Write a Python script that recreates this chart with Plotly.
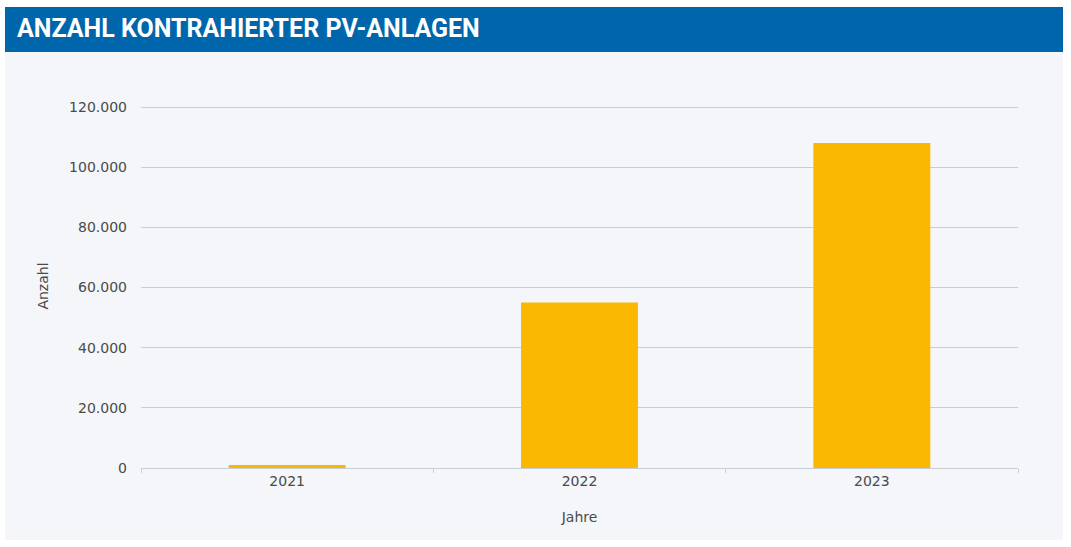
import plotly.graph_objects as go

years = ["2021", "2022", "2023"]
counts = [1000, 55000, 108000]
y_ticks = [0, 20000, 40000, 60000, 80000, 100000, 120000]

W, H = 1071, 547
def px(x):
    return x / W
def py(y):
    return 1 - y / H

# y scale: 0 at y=468 px, 120000 at y=107 px
y0_px, y120_px = 468, 107
y_max = 121000
top_px = y0_px - (y0_px - y120_px) * y_max / 120000

fig = go.Figure()
fig.add_trace(go.Bar(x=years, y=counts, marker=dict(color="#FBB800", line=dict(width=0)),
                     hoverinfo="x+y"))

font_fam = "DejaVu Sans, sans-serif"
fig.update_layout(
    width=W, height=H,
    margin=dict(l=0, r=0, t=0, b=0),
    paper_bgcolor="white",
    plot_bgcolor="#F4F6FA",
    separators=",.",
    bargap=0.6,
    showlegend=False,
    xaxis=dict(
        domain=[px(141), px(1018)],
        anchor="y",
        showline=True, linecolor="#C9CDD6", linewidth=1,
        ticks="outside", tickson="boundaries", ticklen=4, tickcolor="#C9CDD6",
        tickfont=dict(family=font_fam, size=14, color="#4a4a4a"),
        title=dict(text="Jahre", font=dict(family=font_fam, size=14, color="#4a4a4a"), standoff=24),
        automargin=False,
    ),
    yaxis=dict(
        domain=[py(y0_px), py(top_px)],
        anchor="x",
        range=[0, y_max],
        tickvals=y_ticks,
        tickformat=",d",
        showgrid=True, gridcolor="#C9CDD6", gridwidth=1,
        zeroline=False,
        ticks="", ticklabelstandoff=13,
        tickfont=dict(family=font_fam, size=14, color="#4a4a4a"),
        title=dict(text="Anzahl", font=dict(family=font_fam, size=14, color="#4a4a4a"), standoff=17),
        automargin=False,
    ),
    shapes=[
        dict(type="rect", xref="paper", yref="paper", x0=px(5), x1=px(1063), y0=py(540), y1=py(52),
             fillcolor="#F4F6FA", line=dict(width=0), layer="below"),
        dict(type="rect", xref="paper", yref="paper", x0=px(5), x1=px(1063), y0=py(52), y1=py(7),
             fillcolor="#0066AB", line=dict(width=0), layer="below"),
    ],
    annotations=[
        dict(text="<b>ANZAHL KONTRAHIERTER PV-ANLAGEN</b>", xref="paper", yref="paper",
             x=px(15), y=py(29), xanchor="left", yanchor="middle", showarrow=False,
             font=dict(family="Roboto, Liberation Sans, sans-serif", size=25, color="white")),
    ],
)

fig.write_html("out.html", config={"displayModeBar": False},
               post_script="document.body.style.margin='0px';")
